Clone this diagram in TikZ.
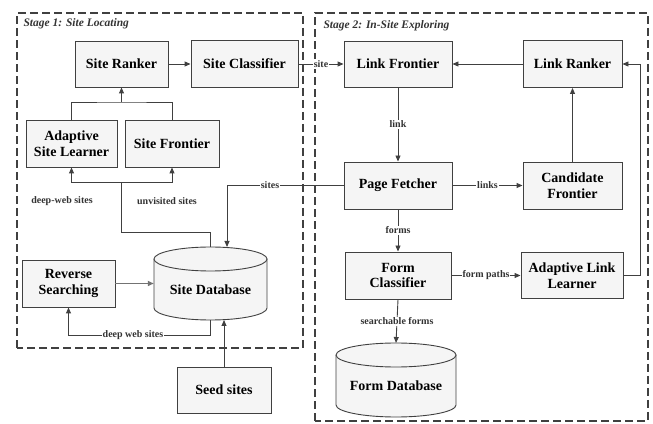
\documentclass[tikz,border=0pt]{standalone}
\usepackage{fontspec}
\setmainfont{Liberation Serif}
\usetikzlibrary{arrows.meta}
\begin{document}
\begin{tikzpicture}[x=1pt,y=1pt,
  box/.style={draw=black!75,fill=black!4,line width=0.9pt,font=\bfseries\fontsize{14}{15.5}\selectfont,align=center,inner sep=0pt},
  dbtext/.style={font=\bfseries\fontsize{14}{15.5}\selectfont,inner sep=0pt},
  conn/.style={draw=black!75,line width=0.9pt},
  arr/.style={conn,-{Triangle[length=6pt,width=5pt]}},
  lbl/.style={fill=white,inner sep=1pt,font=\bfseries\fontsize{10}{11}\selectfont,text=black!80},
  stage/.style={draw=black!75,line width=1.6pt,dash pattern=on 8pt off 4pt},
  title/.style={font=\bfseries\itshape\fontsize{11.5}{12}\selectfont,text=black!80,anchor=west}]
\useasboundingbox (0,0) rectangle (653,423);
% stage frames
\draw[stage] (17,75) rectangle (303,410);
\draw[stage] (315,2) rectangle (648,410);
\node[title] (t1) at (20,399) {Stage 1: Site Locating};
\node[title] (t2) at (320,397) {Stage 2: In-Site Exploring};
% stage 1 boxes
\node[box,minimum width=93pt,minimum height=46pt] (sr) at (121.5,359) {Site Ranker};
\node[box,minimum width=107pt,minimum height=47pt] (sc) at (244.5,359) {Site Classifier};
\node[box,minimum width=91pt,minimum height=47pt] (asl) at (71.5,279.5) {Adaptive\\Site Learner};
\node[box,minimum width=94pt,minimum height=47pt] (sf) at (172,279.5) {Site Frontier};
\node[box,minimum width=93pt,minimum height=47pt] (rs) at (68.5,139.5) {Reverse\\Searching};
\node[box,minimum width=94pt,minimum height=46pt] (seed) at (224,33) {Seed sites};
% site database cylinder
\draw[draw=black!75,fill=black!4,line width=0.9pt] (154,164) -- (154,115) arc[start angle=180,end angle=360,x radius=56.5,y radius=12] -- (267,164);
\draw[draw=black!75,fill=black!4,line width=0.9pt] (210.5,164) ellipse [x radius=56.5,y radius=12];
\node[dbtext,minimum width=113pt,minimum height=73pt] (sdb) at (210.5,139.5) {};
\node[dbtext] (sdbl) at (210.5,133) {Site Database};
% stage 2 boxes
\node[box,minimum width=108pt,minimum height=46pt] (lf) at (398,359) {Link Frontier};
\node[box,minimum width=99pt,minimum height=47pt] (lr) at (572.5,359) {Link Ranker};
\node[box,minimum width=108pt,minimum height=47pt] (pf) at (398,237.5) {Page Fetcher};
\node[box,minimum width=99pt,minimum height=47pt] (cf) at (572.5,237.5) {Candidate\\Frontier};
\node[box,minimum width=106pt,minimum height=47pt] (fc) at (398,147.5) {Form\\Classifier};
\node[box,minimum width=102pt,minimum height=46pt] (all) at (572,147.5) {Adaptive Link\\Learner};
% form database cylinder
\draw[draw=black!75,fill=black!4,line width=0.9pt] (336,68) -- (336,18) arc[start angle=180,end angle=360,x radius=60,y radius=12] -- (456,68);
\draw[draw=black!75,fill=black!4,line width=0.9pt] (396,68) ellipse [x radius=60,y radius=12];
\node[dbtext,minimum width=120pt,minimum height=74pt] (fdb) at (396,43) {};
\node[dbtext] (fdbl) at (396,37) {Form Database};
% coordinates
\coordinate (j1) at (121.5,321);
\coordinate (j2) at (121.5,241);
\coordinate (j3) at (121.5,191);
\coordinate (dbt) at (210.5,176);
\coordinate (sitesdown) at (227,237.5);
\coordinate (sitesend) at (227,176);
\coordinate (dbb) at (210.5,103);
\coordinate (bl) at (210.5,88);
\coordinate (seedtop) at (224,103);
\coordinate (rr) at (640,147.5);
% stage 1 connectors
\draw[arr] (sr) -- (sc);
\draw[conn] (asl.north) |- (j1) -| (sf.north);
\draw[arr] (j1) -- (sr.south);
\draw[arr] (j2) -| (asl.south);
\draw[arr] (j2) -| (sf.south);
\draw[conn] (dbt) |- (j3) -- (j2);
\node[lbl] (l1) at (62,222) {deep-web sites};
\node[lbl] (l2) at (167,222) {unvisited sites};
\draw[arr] (pf.west) -- (sitesdown) -- (sitesend);
\node[lbl] (l3) at (270,237.5) {sites};
\draw[arr,draw=black!55,line width=1.6pt] (rs.east) -- (sdb.west);
\draw[arr] (dbb) |- (bl) -| (rs.south);
\node[lbl] (l4) at (133,88) {deep web sites};
\draw[arr] (seed.north) -- (seedtop);
% stage 2 connectors
\draw[arr] (sc) -- node[lbl] (l5) {site} (lf);
\draw[arr] (lr) -- (lf);
\draw[arr] (lf) -- node[lbl] (l6) {link} (pf);
\draw[arr] (pf) -- node[lbl] (l7) {links} (cf);
\draw[arr] (cf) -- (lr);
\draw[arr] (pf) -- node[lbl] (l8) {forms} (fc);
\draw[arr] (fc) -- node[lbl] (l9) {form paths} (all);
\draw[arr] (all.east) -- (rr) |- (lr.east);
\draw[arr] (fc.south) -- node[lbl] (l10) {searchable forms} (396,80);
\end{tikzpicture}
\end{document}
